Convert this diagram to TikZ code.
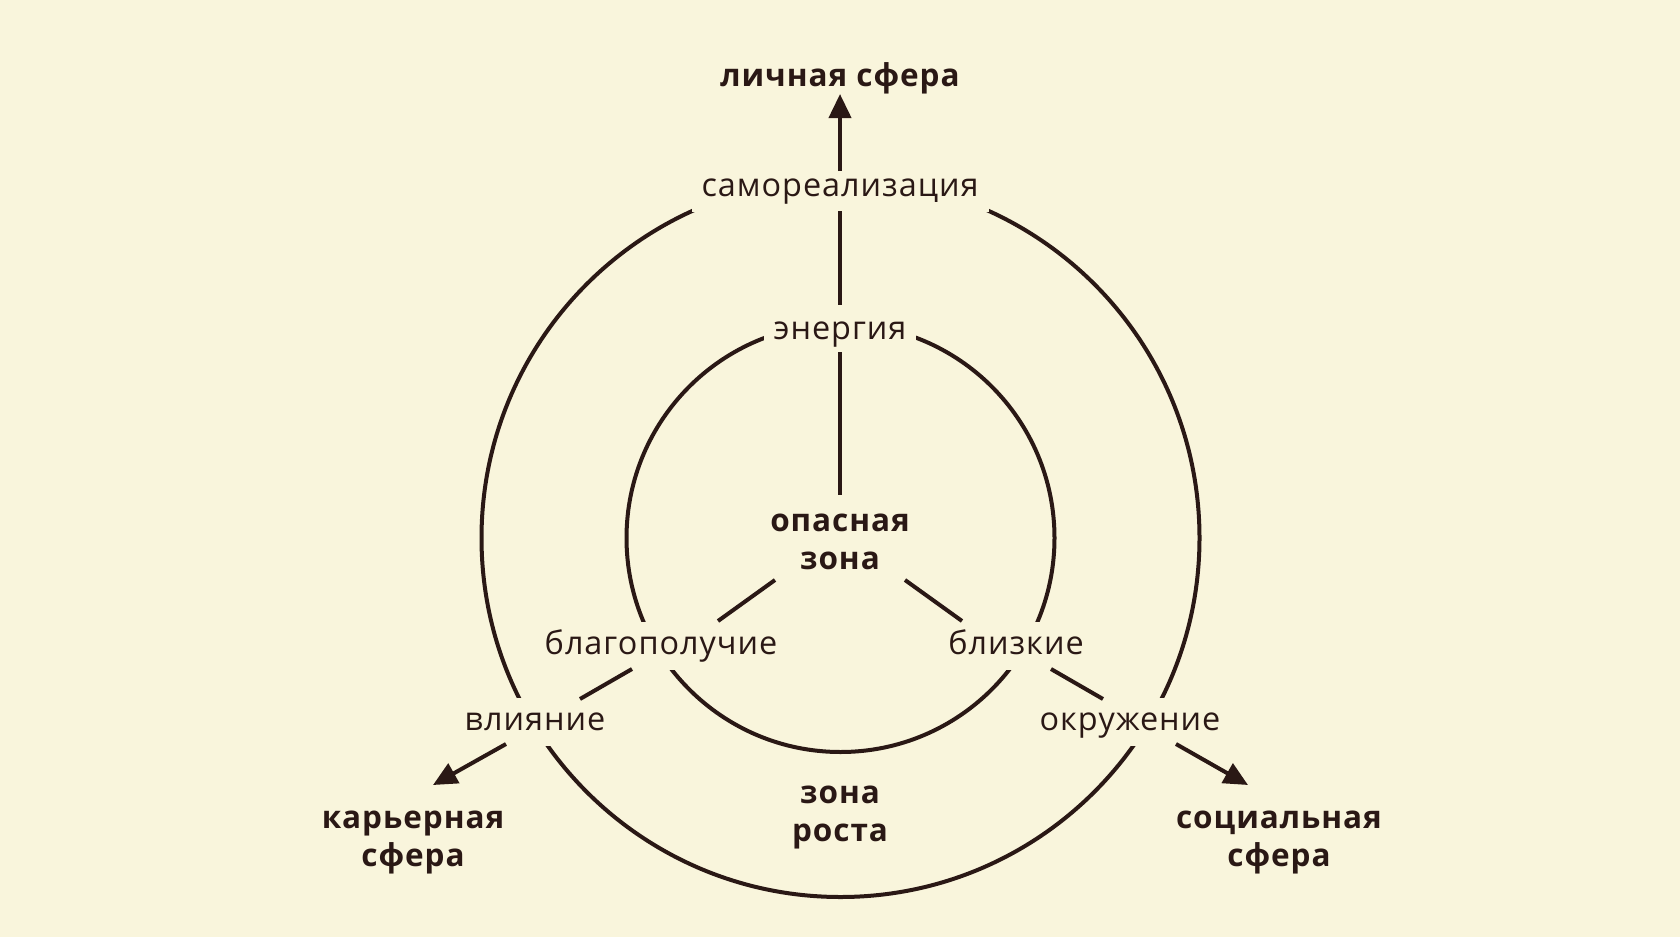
\documentclass[tikz,border=0pt]{standalone}
\usepackage{fontspec}
\setmainfont{Open Sans}[LetterSpace=3.0]
\usetikzlibrary{arrows.meta,calc}
\definecolor{bg}{HTML}{F9F5DC}
\definecolor{ink}{HTML}{2A1815}
\tikzset{
  lab/.style={fill=bg, font=\fontsize{32.4}{37}\selectfont, text=ink, text height=17.5pt, text depth=0pt, inner xsep=10pt, inner ysep=15pt},
  head/.style={font=\fontsize{31.5}{38}\selectfont\bfseries, text=ink, align=center, inner sep=0pt},
  ring/.style={draw=ink, line width=4pt},
  conn/.style={draw=ink, line width=4pt},
  arr/.style={conn, -{Triangle[length=24pt,width=22pt]}},
}
\begin{document}
\begin{tikzpicture}[x=1pt,y=-1pt]
\fill[bg] (0,0) rectangle (1680,937);
\useasboundingbox (0,0) rectangle (1680,937);
\coordinate (C) at (840.5,538);
\draw[ring] (C) circle[radius=359];
\draw[ring] (C) circle[radius=214];
% labels on rings
\node[lab] (samo) at (840,188) {самореализация};
\node[lab] (energ) at (840,331) {энергия};
\node[lab] (blago) at (661,646) {благополучие};
\node[lab] (bliz) at (1016,646) {близкие};
\node[lab] (vliy) at (535,722) {влияние};
\node[lab] (okr) at (1130,722) {окружение};
% headings
\node[head] (lich) at (840,78) {личная сфера};
\node[head] (op) at (840,542) {опасная\\зона};
\node[head] (rost) at (840,817) {зона\\роста};
\node[head] (kar) at (413,842) {карьерная\\сфера};
\node[head] (soc) at (1279,842) {социальная\\сфера};
% connectors
\draw[arr] ($(samo)+(0,-17)$) -- ($(lich)+(0,16)$);
\draw[conn] ($(samo)+(0,23)$) -- ($(energ)+(0,-26)$);
\draw[conn] ($(energ)+(0,21)$) -- ($(op)+(0,-47)$);
\draw[conn] ($(op)+(-65,38)$) -- ($(blago)+(57,-25)$);
\draw[conn] ($(op)+(65,38)$) -- ($(bliz)+(-54,-25)$);
\draw[conn] ($(blago)+(-29,23)$) -- ($(vliy)+(45,-23)$);
\draw[conn] ($(bliz)+(35,23)$) -- ($(okr)+(-27,-23)$);
\draw[arr] ($(vliy)+(-29,22)$) -- ($(kar)+(20,-57)$);
\draw[arr] ($(okr)+(46,22)$) -- ($(soc)+(-31,-57)$);
\end{tikzpicture}
\end{document}
